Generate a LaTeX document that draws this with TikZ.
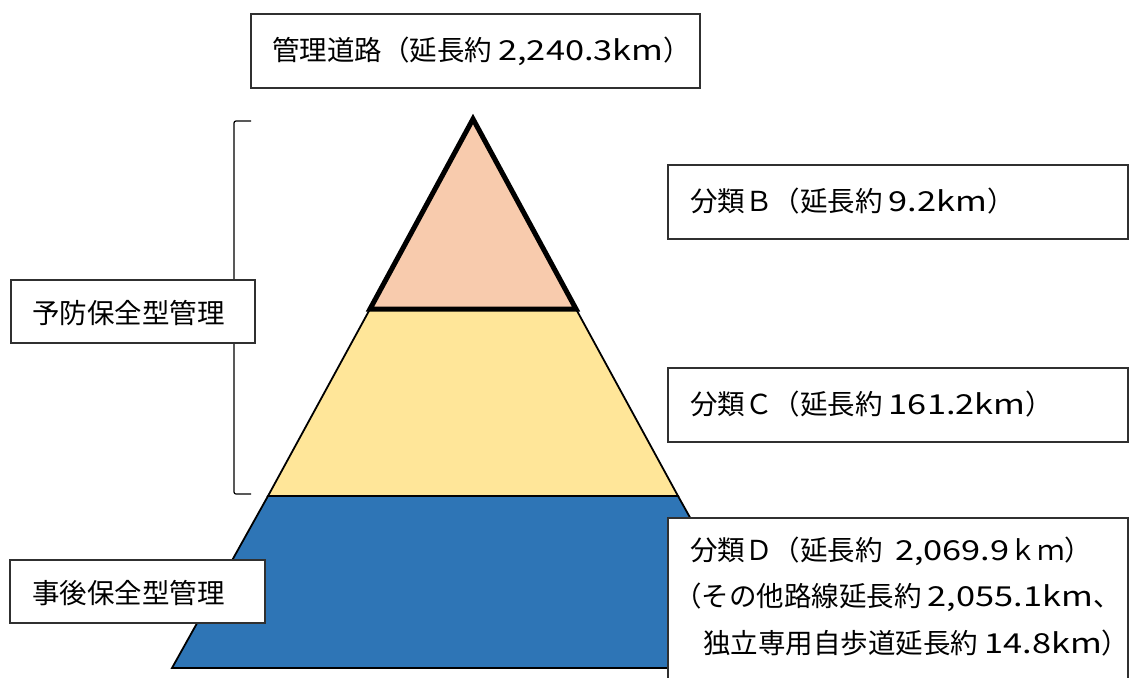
\documentclass[tikz,border=0pt]{standalone}
\usepackage{fontspec}
\setmainfont{Noto Sans CJK JP}
\newfontfamily\latnfont{Noto Sans CJK JP}[FakeStretch=1.25]
\newcommand{\nmb}[1]{{\latnfont #1}}
\definecolor{peach}{HTML}{F8CBAD}
\definecolor{yel}{HTML}{FFE699}
\definecolor{blu}{HTML}{2E75B6}
\definecolor{edge}{HTML}{303030}
\tikzset{
  boxframe/.style={draw=edge, line width=1.3pt, fill=white},
  lbl/.style={anchor=west, inner sep=0pt, font=\fontsize{27.5}{46}\selectfont, align=left},
  layer/.style={draw=black, line width=1.8pt, line join=miter},
}
\begin{document}
\begin{tikzpicture}[x=1pt,y=-1pt]
\useasboundingbox (0,0) rectangle (1129,677);
\clip (0,0) rectangle (1129,677);
% pyramid
\coordinate (apex) at (473,119);
\coordinate (bl1) at (370,309); \coordinate (br1) at (576,309);
\coordinate (bl2) at (268,496); \coordinate (br2) at (678,496);
\coordinate (bl3) at (172,668); \coordinate (br3) at (774,668);
\draw[layer, fill=blu] (bl2) -- (br2) -- (br3) -- (bl3) -- cycle;
\draw[layer, fill=yel] (bl1) -- (br1) -- (br2) -- (bl2) -- cycle;
\draw[draw=black, line width=5pt, line join=miter, fill=peach] (apex) -- (br1) -- (bl1) -- cycle;
% bracket
\draw[black, line width=1.2pt, rounded corners=2pt] (251,121) -- (234,121) -- (234,494) -- (251,494);
% boxes
\draw[boxframe] (251,14) rectangle (700,88);
\node[lbl] (road) at (272,51) {管理道路（延長約 \nmb{2,240.3km}）};
\draw[boxframe] (668,165) rectangle (1128,239);
\node[lbl] (clsB) at (690,201) {分類Ｂ（延長約 \nmb{9.2km}）};
\draw[boxframe] (668,368) rectangle (1128,442);
\node[lbl] (clsC) at (690,404) {分類Ｃ（延長約 \nmb{161.2km}）};
\draw[boxframe] (668,518) rectangle (1128,690);
\node[lbl] (clsD) at (690,551) {分類Ｄ（延長約\ \ \nmb{2,069.9}ｋｍ）};
\node[lbl] (clsD2) at (674,597) {（その他路線延長約 \nmb{2,055.1km}、};
\node[lbl] (clsD3) at (703,643) {独立専用自歩道延長約 \nmb{14.8km}）};
\draw[boxframe] (11,280) rectangle (255,343);
\node[lbl] (prev) at (32,313) {予防保全型管理};
\draw[boxframe] (10,560) rectangle (265,623);
\node[lbl] (post) at (32,593) {事後保全型管理};
\end{tikzpicture}
\end{document}
